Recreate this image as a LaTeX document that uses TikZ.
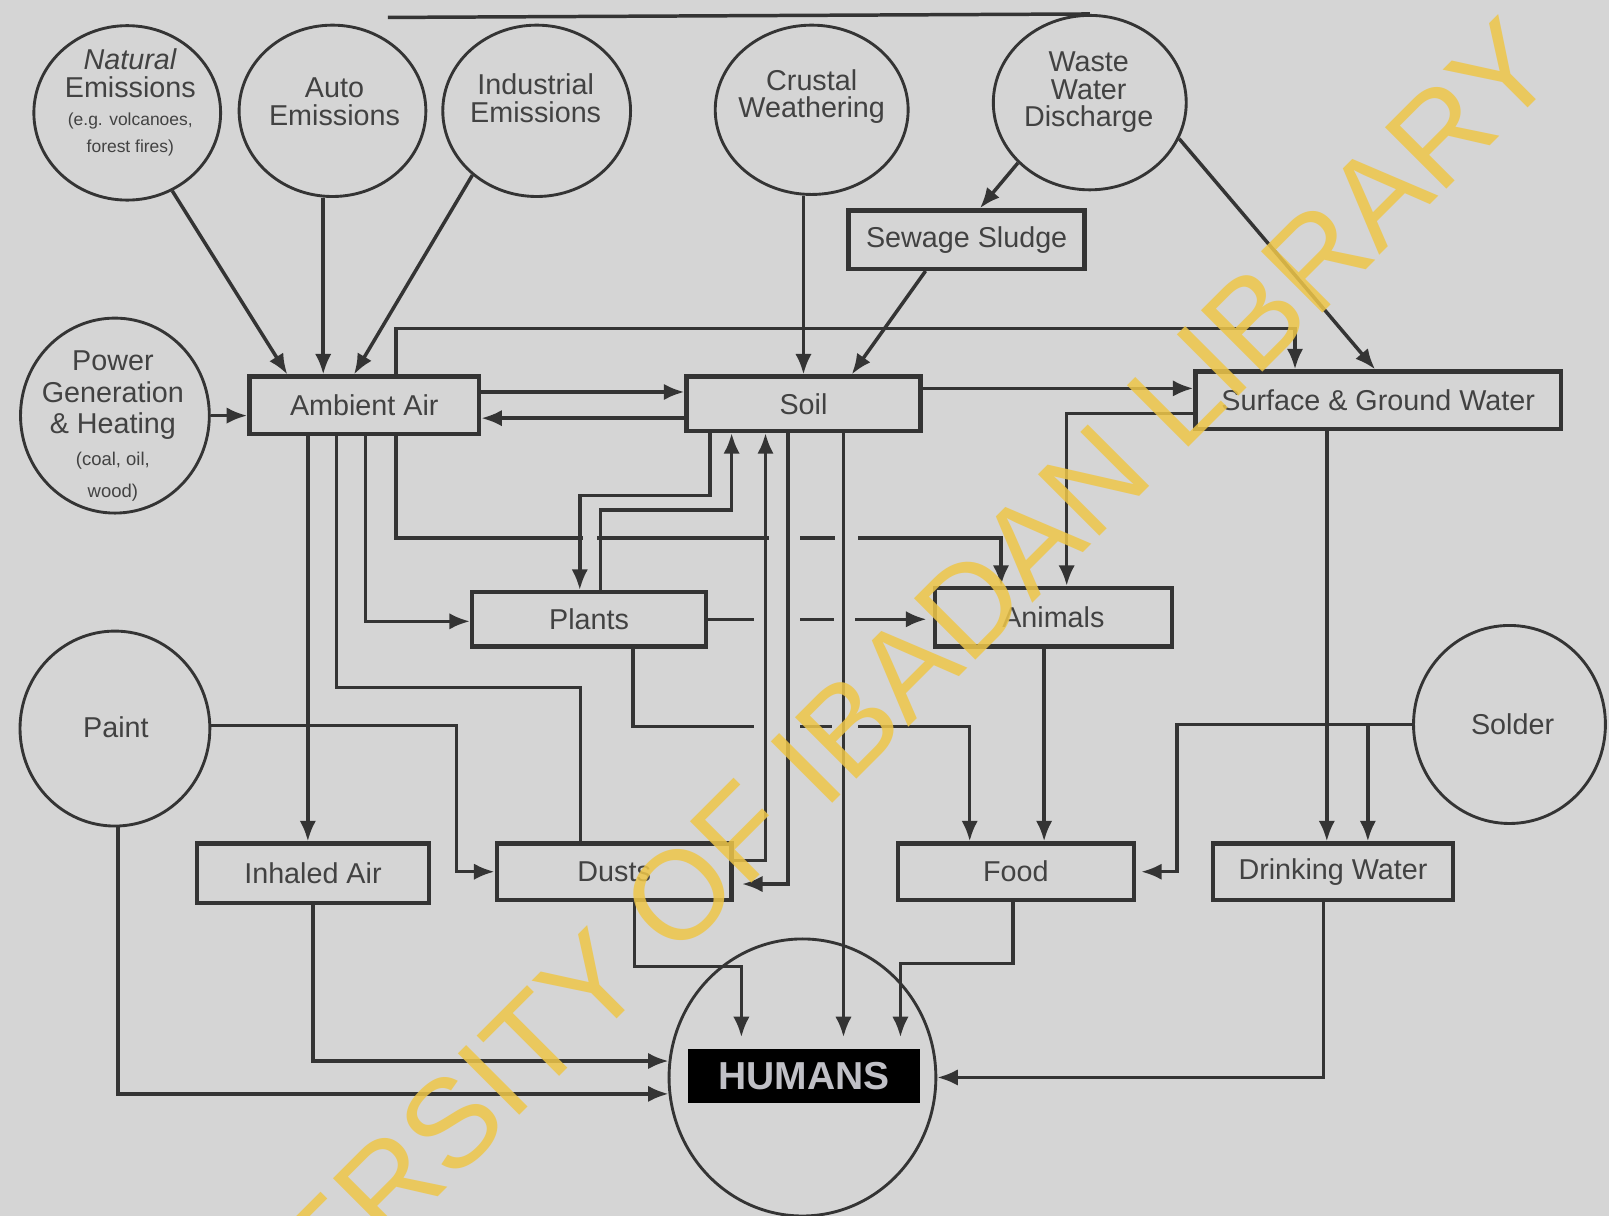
\documentclass[tikz,border=0pt]{standalone}
\usepackage{fontspec}
\setmainfont{Liberation Sans}
\usetikzlibrary{arrows.meta,shapes.geometric}
\definecolor{bg}{RGB}{213,213,213}
\definecolor{ink}{RGB}{52,52,52}
\definecolor{txt}{RGB}{66,66,66}
\definecolor{wm}{RGB}{238,198,72}
\definecolor{hum}{RGB}{192,192,198}
\begin{document}
\begin{tikzpicture}[x=1pt,y=-1pt,
  conn/.style={draw=ink,line width=3.4pt},
  arr/.style={conn,-{Latex[length=20pt,width=16pt]}},
  boxnode/.style={rectangle,draw=ink,line width=4.2pt,fill=bg,inner sep=0pt,text=txt,font=\fontsize{28}{28}\selectfont},
  src/.style={ellipse,draw=ink,line width=2.8pt,fill=bg,inner sep=0pt},
  srctext/.style={align=center,text=txt,inner sep=0pt,font=\fontsize{28}{27}\selectfont},
  gap/.style={fill=bg}
]
\useasboundingbox (0,0) rectangle (1568,1185);
\fill[bg] (0,0) rectangle (1568,1185);

% source circles
\node[src,minimum width=182pt,minimum height=170pt] (natural) at (124,110) {};
\node[src,minimum width=182pt,minimum height=167pt] (auto) at (324,108) {};
\node[src,minimum width=183pt,minimum height=167pt] (industrial) at (523,108) {};
\node[src,minimum width=188pt,minimum height=165pt] (crustal) at (791,107) {};
\node[src,minimum width=188pt,minimum height=170pt] (waste) at (1062,100) {};
\node[src,minimum width=184pt,minimum height=190pt] (power) at (112,405) {};
\node[src,minimum width=185pt,minimum height=190pt] (paint) at (112,710) {};
\node[src,minimum width=187pt,minimum height=193pt] (solder) at (1471,706) {};
\node[src,minimum width=260pt,minimum height=270pt] (hcirc) at (782,1050) {};

\node[srctext] (natural-t) at (127,100) {\textit{Natural}\\Emissions\\{\fontsize{17}{24}\selectfont (e.g. volcanoes,}\\{\fontsize{17}{22}\selectfont forest fires)}};
\node[srctext] (auto-t) at (326,99) {Auto\\Emissions};
\node[srctext] (industrial-t) at (522,96) {Industrial\\Emissions};
\node[srctext] (crustal-t) at (791,94) {Crustal\\Weathering};
\node[srctext] (waste-t) at (1061,90) {Waste\\Water\\Discharge};
\node[srctext,font=\fontsize{28}{31}\selectfont] (power-t) at (110,415) {Power\\Generation\\\& Heating\\{\fontsize{18}{27}\selectfont (coal, oil,}\\{\fontsize{18}{24}\selectfont wood)}};
\node[srctext] (paint-t) at (113,709) {Paint};
\node[srctext] (solder-t) at (1474,706) {Solder};

% boxes
\node[boxnode,minimum width=230pt,minimum height=57pt] (sludge) at (942,233.5) {Sewage Sludge};
\node[boxnode,minimum width=224pt,minimum height=56pt] (air) at (355,395) {Ambient Air};
\node[boxnode,minimum width=228pt,minimum height=53pt] (soil) at (783,393.5) {Soil};
\node[boxnode,minimum width=356pt,minimum height=56pt] (water) at (1343,390) {Surface \& Ground Water};
\node[boxnode,minimum width=228pt,minimum height=53pt] (plants) at (574,603.5) {Plants};
\node[boxnode,minimum width=231pt,minimum height=57pt] (animals) at (1026.5,601.5) {Animals};
\node[boxnode,minimum width=226pt,minimum height=58pt] (inhaled) at (305,851) {Inhaled Air};
\node[boxnode,minimum width=229pt,minimum height=55pt] (dusts) at (598.5,849.5) {Dusts};
\node[boxnode,minimum width=230pt,minimum height=55pt] (food) at (990,849.5) {Food};
\node[boxnode,minimum width=234pt,minimum height=55pt] (drink) at (1299,849.5) {Drinking Water};
\node[rectangle,fill=black,inner sep=0pt,minimum width=227pt,minimum height=53pt,text=hum,font=\fontsize{38}{38}\selectfont\bfseries] (hbox) at (783.5,1048.5) {HUMANS};

% top line
\coordinate (topend) at (378,17);
\draw[conn] (waste.north) -- (topend);

% sources to ambient air
\draw[arr] (natural.-60) -- ([xshift=-75pt]air.north);
\draw[arr] ([xshift=-9pt]auto.south) -- ([xshift=-9pt]auto.south |- air.north);
\draw[arr] (industrial.225) -- ([xshift=-10pt]air.north);
\draw[arr] (power.east) -- (power.east -| air.west);

% to soil, sludge, water
\draw[arr] (soil.north |- crustal.south) -- (soil.north);
\draw[arr] (waste.220) -- ([xshift=13pt]sludge.north);
\draw[arr] ([xshift=-40pt]sludge.south) -- ([xshift=47pt]soil.north);
\draw[arr] (waste.-22) -- ([xshift=-3pt]water.north);

% ambient air links
\draw[arr] ([xshift=31pt]air.north) -- ++(0,-45) -| ([xshift=-81pt]water.north);
\draw[arr] ([yshift=13pt]air.east) -- ([yshift=13pt]air.east -| soil.west);
\draw[arr] ([yshift=-14pt]soil.west) -- ([yshift=-14pt]soil.west -| air.east);
\draw[arr] ([xshift=31pt]air.south) -- ++(0,99) -| ([xshift=-51pt]animals.north);
\draw[arr] ([xshift=-55pt]air.south) -- ([xshift=-55pt]air.south |- inhaled.north);
\draw[conn] ([xshift=-27pt]air.south) -- ++(0,245) -| ([xshift=-33pt]dusts.north);
\draw[arr] ([xshift=1pt]air.south) |- ([yshift=-2pt]plants.west);

% soil links
\draw[arr] ([yshift=15pt]soil.east) -- ([yshift=15pt]soil.east -| water.west);
\draw[arr] ([xshift=-91pt]soil.south) -- ++(0,61) -| ([xshift=-9pt]plants.north);
\draw[arr] ([xshift=11pt]plants.north) -- ++(0,-78) -| ([xshift=-70pt]soil.south);

% water links
\draw[arr] ([yshift=-13pt]water.west) -| ([xshift=13pt]animals.north);
\draw[arr] ([xshift=-50pt]water.south) -- ([xshift=-50pt]water.south |- drink.north);

% plants, animals
\draw[arr] (plants.east) -- ([xshift=-6pt]plants.east -| animals.west);
\draw[arr] ([xshift=43pt]plants.south) -- ++(0,76) -| ([xshift=-45pt]food.north);
\draw[arr] ([xshift=-9pt]animals.south) -- ([xshift=-9pt]animals.south |- food.north);

% paint, solder
\draw[arr] ([yshift=3pt]paint.east) -| ([xshift=-37pt]dusts.west) -- (dusts.west);
\draw[arr] (solder.west) -| ([xshift=40pt]food.east) -- ([xshift=5pt]food.east);
\draw[arr] ([xshift=34pt]drink.north |- solder.west) -- ([xshift=34pt]drink.north);

% to humans
\draw[arr] (inhaled.south) |- (hcirc.173);
\draw[arr] ([xshift=3pt]paint.south) |- (hcirc.187);
\draw[arr] ([xshift=20pt]dusts.south) -- ++(0,63) -| ([xshift=-61pt,yshift=11pt]hbox.north);
\draw[arr] ([xshift=-3pt]food.south) -- ++(0,60) -| ([xshift=94pt,yshift=11pt]hbox.north);
\draw[arr] ([xshift=-9pt]drink.south) |- (hcirc.east);

% line hops where the soil verticals cross
\fill[gap] (568.5,515) rectangle (581.5,529);
\fill[gap] (749,515) rectangle (780,529);
\fill[gap] (814,515) rectangle (836,529);
\fill[gap] (735,596) rectangle (780,611);
\fill[gap] (813,596) rectangle (833,611);
\fill[gap] (735,699) rectangle (780,713);
\fill[gap] (811,699) rectangle (836,713);

% soil verticals
\draw[arr] ([yshift=11pt]dusts.east) -| ([xshift=-37pt]soil.south);
\draw[arr] ([xshift=-15pt]soil.south) |- ([xshift=8pt,yshift=-12pt]dusts.east);
\draw[arr] ([xshift=39pt]soil.south) -- ([xshift=39pt,yshift=11pt]soil.south |- hbox.north);

% watermark
\begin{scope}
\clip (0,0) rectangle (1568,1185);
\node[anchor=base east,rotate=45,text=wm,opacity=0.85,inner sep=0pt,font=\fontsize{123}{123}\selectfont] (wmark) at (1522,72) {UNIVERSITY OF IBADAN LIBRARY};
\end{scope}
\end{tikzpicture}
\end{document}
